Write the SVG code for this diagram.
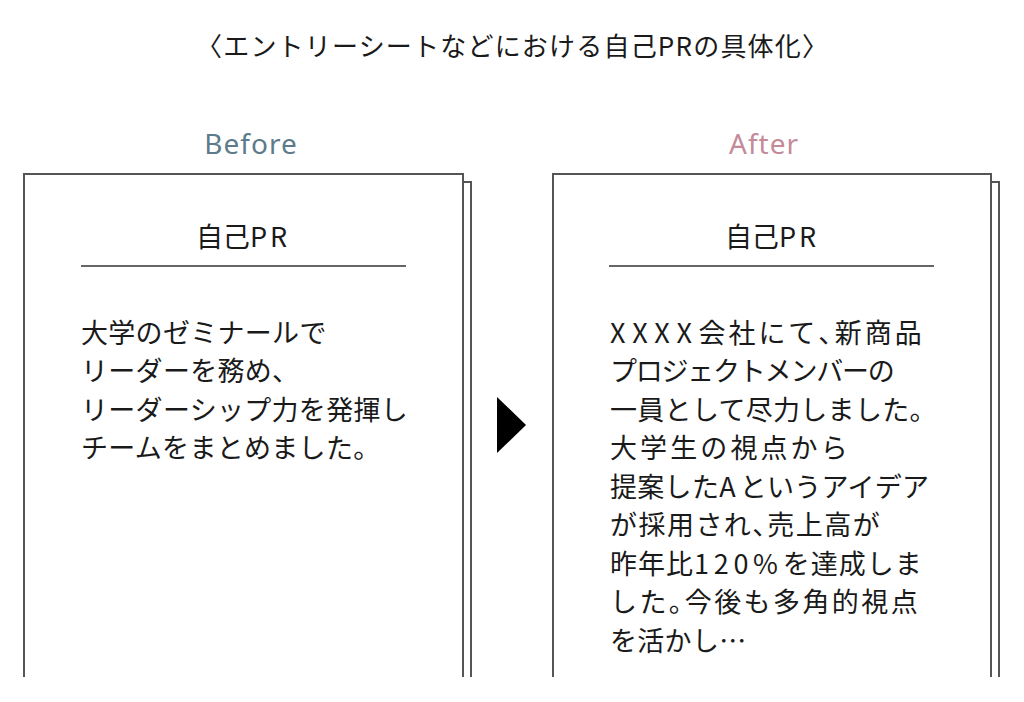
<svg xmlns="http://www.w3.org/2000/svg" width="1024" height="702" viewBox="0 0 1024 702">
<style>
.jp{font-family:"Noto Sans CJK JP","Noto Sans",sans-serif;fill:#1a1a1a}
.t{font-size:27px;letter-spacing:0.3px}
.h{font-size:27px}
.ttl{font-size:26px}
.la{letter-spacing:4px}
.hw{font-feature-settings:"halt" 1}
.lbl{font-family:"Noto Sans","Noto Sans CJK JP",sans-serif;font-size:28px;text-anchor:middle;letter-spacing:1px}
.pg{fill:#fff;stroke:#555;stroke-width:2}
.rule{stroke:#666;stroke-width:2}
</style>
<rect width="1024" height="702" fill="#fff"/>
<text class="jp ttl" x="512" y="56" text-anchor="middle" textLength="632" lengthAdjust="spacing">〈エントリーシートなどにおける自己PRの具体化〉</text>
<g id="before">
<text class="lbl" x="251" y="154" fill="#5e7b8a">Before</text>
<path class="pg" d="M471 677 V182 H463"/>
<path class="pg" d="M24 677 V174 H463 V677"/>
<text class="jp h" x="243" y="247" text-anchor="middle">自己<tspan letter-spacing="3">PR</tspan></text>
<line class="rule" x1="81" y1="266" x2="406" y2="266"/>
<text class="jp t" x="81" y="343">大学のゼミナールで</text>
<text class="jp t" x="81" y="381">リーダーを務め、</text>
<text class="jp t" x="81" y="420">リーダーシップ力を発揮し</text>
<text class="jp t" x="81" y="458">チームをまとめました。</text>
</g>
<g id="connectors">
<polygon points="497,397 526,425 497,453" fill="#000"/>
</g>
<g id="after">
<text class="lbl" x="764" y="154" fill="#c48a98">After</text>
<path class="pg" d="M999 677 V182 H991"/>
<path class="pg" d="M553 677 V174 H991 V677"/>
<text class="jp h" x="772" y="247" text-anchor="middle">自己<tspan letter-spacing="3">PR</tspan></text>
<line class="rule" x1="609" y1="266" x2="934" y2="266"/>
<text class="jp t" x="610" y="343" textLength="312" lengthAdjust="spacing"><tspan class="la">XXXX</tspan>会社にて<tspan class="hw">、</tspan>新商品</text>
<text class="jp t" x="610" y="381" textLength="285" lengthAdjust="spacing">プロジェクトメンバーの</text>
<text class="jp t" x="610" y="420">一員として尽力しました。</text>
<text class="jp t" x="610" y="458" textLength="238" lengthAdjust="spacing">大学生の視点から</text>
<text class="jp t" x="610" y="497">提案した<tspan class="la">A</tspan>というアイデア</text>
<text class="jp t" x="610" y="535" textLength="270" lengthAdjust="spacing">が採用され<tspan class="hw">、</tspan>売上高が</text>
<text class="jp t" x="610" y="574" textLength="312" lengthAdjust="spacing">昨年比<tspan class="la">120%</tspan>を達成しま</text>
<text class="jp t" x="610" y="612" textLength="308" lengthAdjust="spacing">した<tspan class="hw">。</tspan>今後も多角的視点</text>
<text class="jp t" x="610" y="651">を活かし…</text>
</g>
</svg>
